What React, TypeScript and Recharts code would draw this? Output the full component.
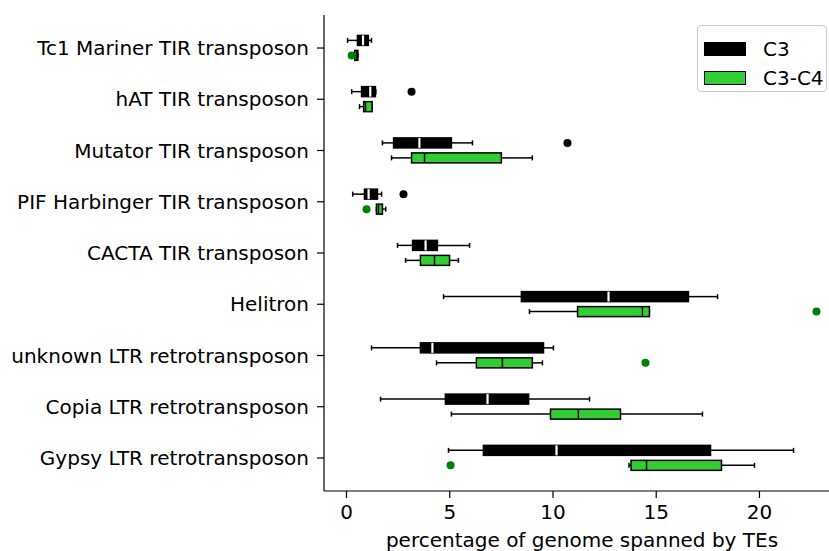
import React from 'react';
import { ComposedChart, Bar, XAxis, YAxis, Legend } from 'recharts';

const FONT = '"DejaVu Sans", sans-serif';
const FONT_SIZE = 20;
const COLOR_C3 = '#000000';
const COLOR_C4 = '#32cd32';
const COLOR_C4_OUT = '#008000';

const categories = [
  'Tc1 Mariner TIR transposon',
  'hAT TIR transposon',
  'Mutator TIR transposon',
  'PIF Harbinger TIR transposon',
  'CACTA TIR transposon',
  'Helitron',
  'unknown LTR retrotransposon',
  'Copia LTR retrotransposon',
  'Gypsy LTR retrotransposon',
];

// [lower whisker, q1, median, q3, upper whisker]
const c3Stats = [
  [0.05, 0.53, 0.8, 1.06, 1.21],
  [0.25, 0.73, 1.15, 1.4, 1.42],
  [1.74, 2.28, 3.53, 5.08, 6.1],
  [0.3, 0.87, 1.07, 1.5, 1.7],
  [2.47, 3.2, 3.83, 4.4, 5.96],
  [4.7, 8.47, 12.69, 16.56, 17.97],
  [1.21, 3.58, 4.16, 9.54, 10.02],
  [1.65, 4.79, 6.83, 8.82, 11.77],
  [4.94, 6.63, 10.17, 17.63, 21.65],
];
const c3Outliers = [[], [3.15], [10.7], [2.76], [], [], [], [], []];

const c4Stats = [
  [0.4, 0.4, 0.5, 0.55, 0.55],
  [0.63, 0.83, 0.92, 1.24, 1.24],
  [2.18, 3.15, 3.78, 7.5, 9.0],
  [1.45, 1.45, 1.55, 1.74, 1.9],
  [2.86, 3.58, 4.26, 4.99, 5.42],
  [8.86, 11.19, 14.33, 14.67, 14.67],
  [4.36, 6.29, 7.55, 9.0, 9.49],
  [5.08, 9.88, 11.23, 13.27, 17.24],
  [13.68, 13.78, 14.53, 18.16, 19.76],
];
const c4Outliers = [[0.25], [], [], [0.97], [], [22.76], [14.48], [], [5.04]];

const xTicks = [0, 5, 10, 15, 20];
const xDomain = [-1.09, 23.9];

const data = categories.map((name, i) => ({
  name,
  c3: [c3Stats[i][0], c3Stats[i][4]],
  c4: [c4Stats[i][0], c4Stats[i][4]],
  c3Stats: c3Stats[i],
  c4Stats: c4Stats[i],
  c3Out: c3Outliers[i],
  c4Out: c4Outliers[i],
}));

// draws a whole box (whiskers, box, median, fliers) from the bar's whisker extent
const makeBoxShape = (key: 'c3' | 'c4') => (props: any) => {
  const { x, y, width, height, payload } = props;
  const stats: number[] = payload[key + 'Stats'];
  const outs: number[] = payload[key + 'Out'];
  const [lo, q1, med, q3, hi] = stats;
  const px = (v: number) => x + ((v - lo) * width) / (hi - lo);
  const cy = y + height / 2;
  const isC3 = key === 'c3';
  return (
    <g>
      <line x1={px(lo)} x2={px(q1)} y1={cy} y2={cy} stroke="#000" strokeWidth={1.5} />
      <line x1={px(q3)} x2={px(hi)} y1={cy} y2={cy} stroke="#000" strokeWidth={1.5} />
      <line x1={px(lo)} x2={px(lo)} y1={cy - 2.5} y2={cy + 2.5} stroke="#000" strokeWidth={1.5} />
      <line x1={px(hi)} x2={px(hi)} y1={cy - 2.5} y2={cy + 2.5} stroke="#000" strokeWidth={1.5} />
      <rect
        x={px(q1)}
        y={y}
        width={Math.max(px(q3) - px(q1), 0.5)}
        height={height}
        fill={isC3 ? COLOR_C3 : COLOR_C4}
        stroke="#000"
        strokeWidth={1.5}
      />
      <line
        x1={px(med)}
        x2={px(med)}
        y1={y + (isC3 ? 0 : 0.5)}
        y2={y + height - (isC3 ? 0 : 0.5)}
        stroke={isC3 ? '#ffffff' : '#000'}
        strokeWidth={isC3 ? 2.2 : 1.5}
      />
      {outs.map((v, j) => (
        <circle key={j} cx={px(v)} cy={cy} r={4} fill={isC3 ? COLOR_C3 : COLOR_C4_OUT} />
      ))}
    </g>
  );
};

const renderLegend = (props: any) => {
  const { payload } = props;
  return (
    <div
      style={{
        width: 130,
        height: 67,
        boxSizing: 'border-box',
        border: '1px solid #cccccc',
        borderRadius: 4,
        background: 'rgba(255,255,255,0.8)',
        fontFamily: FONT,
        fontSize: FONT_SIZE,
        color: '#000',
        paddingTop: 8,
        paddingLeft: 6,
      }}
    >
      {(payload || []).map((entry: any) => (
        <div key={entry.value} style={{ display: 'flex', alignItems: 'center', height: 29.5 }}>
          <span
            style={{
              display: 'inline-block',
              width: 42,
              height: 14,
              boxSizing: 'border-box',
              background: entry.color,
              border: '1.5px solid #000',
              marginRight: 17,
            }}
          />
          <span style={{ lineHeight: '20px' }}>{entry.value}</span>
        </div>
      ))}
    </div>
  );
};

export default function App() {
  return (
    <div style={{ position: 'absolute', left: 0, top: 0, width: 829, height: 551, overflow: 'hidden', background: '#fff' }}>
      <ComposedChart
        width={840}
        height={551}
        layout="vertical"
        data={data}
        barSize={10}
        barGap={5}
        margin={{ top: 15, right: 0, bottom: 0, left: 0 }}
      >
        <XAxis
          xAxisId="top"
          orientation="top"
          type="number"
          domain={xDomain}
          height={0}
          tick={false}
          tickLine={false}
          axisLine={{ stroke: '#000', strokeWidth: 1.2 }}
        />
        <XAxis
          xAxisId="main"
          type="number"
          domain={xDomain}
          ticks={xTicks}
          height={60}
          tickSize={7}
          tickMargin={7}
          axisLine={{ stroke: '#000', strokeWidth: 1.2 }}
          tickLine={{ stroke: '#000', strokeWidth: 1.2 }}
          tick={{ fill: '#000', fontSize: FONT_SIZE, fontFamily: FONT }}
          label={{
            value: 'percentage of genome spanned by TEs',
            position: 'insideBottom',
            offset: 4,
            fill: '#000',
            fontSize: FONT_SIZE,
            fontFamily: FONT,
          }}
        />
        <YAxis
          type="category"
          dataKey="name"
          width={324}
          padding={{ top: 7.4, bottom: 7.4 }}
          tickSize={7}
          tickMargin={8}
          interval={0}
          axisLine={{ stroke: '#000', strokeWidth: 1.2 }}
          tickLine={{ stroke: '#000', strokeWidth: 1.2 }}
          tick={{ fill: '#000', fontSize: FONT_SIZE, fontFamily: FONT }}
        />
        <Legend
          layout="horizontal"
          verticalAlign="middle"
          align="center"
          content={renderLegend}
          wrapperStyle={{ top: 25, left: 697, width: 130, height: 67 }}
        />
        <Bar
          xAxisId="main"
          dataKey="c3"
          name="C3"
          fill={COLOR_C3}
          shape={makeBoxShape('c3')}
          isAnimationActive={false}
        />
        <Bar
          xAxisId="main"
          dataKey="c4"
          name="C3-C4"
          fill={COLOR_C4}
          shape={makeBoxShape('c4')}
          isAnimationActive={false}
        />
      </ComposedChart>
    </div>
  );
}
